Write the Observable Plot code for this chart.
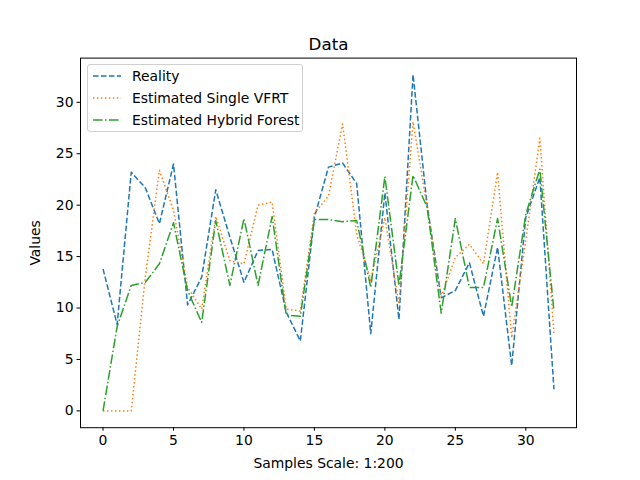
<!DOCTYPE html>
<html>
<head>
<meta charset="utf-8">
<script src="https://cdn.jsdelivr.net/npm/d3@7"></script>
<script src="https://cdn.jsdelivr.net/npm/@observablehq/plot@0.6"></script>
<style>
  html, body { margin: 0; padding: 0; background: #fff; }
  #wrap { position: relative; width: 640px; height: 480px; font-family: "DejaVu Sans", sans-serif; }
  #legend { position: absolute; left: 87px; top: 64px; width: 216px; height: 68px; border: 1px solid #d0d0d0; border-radius: 3px; background: rgba(255,255,255,0.8); box-sizing: border-box; font-size: 13.9px; color: #000; }
  .row { position: absolute; left: 5px; height: 20px; display: flex; align-items: center; }
  .row svg { margin-right: 11px; }
</style>
</head>
<body>
<div id="wrap"><div id="chart"></div><div id="legend"></div></div>
<script>
const seriesNames = ["Reality", "Estimated Single VFRT", "Estimated Hybrid Forest"];
const seriesColors = ["#1f77b4", "#ff7f0e", "#2ca02c"];
const seriesDash = ["5.55,2.4", "1.5,2.475", "9.6,2.4,1.5,2.4"];
const samples = [0,1,2,3,4,5,6,7,8,9,10,11,12,13,14,15,16,17,18,19,20,21,22,23,24,25,26,27,28,29,30,31,32];
const reality = [13.8,8.4,23.2,21.7,18.2,24.0,10.3,13.0,21.5,16.9,12.5,15.6,15.7,9.6,6.8,18.8,23.7,24.1,22.1,7.5,21.2,8.9,32.7,20.0,11.0,11.7,14.4,9.2,15.9,4.4,18.8,22.7,2.1];
const single = [0,0,0,13.0,23.4,19.5,12.0,9.9,18.9,14.6,14.3,20.0,20.3,9.9,9.7,19.2,20.9,27.9,17.2,12.7,18.8,10.4,28.1,19.8,11.1,14.9,16.2,14.3,23.2,7.1,16.6,26.5,7.5];
const hybrid = [0,8.2,12.2,12.5,14.3,18.3,11.7,8.6,18.5,12.2,18.7,12.2,18.9,9.3,9.2,18.6,18.6,18.4,18.5,12.0,22.8,12.2,22.9,19.8,9.5,18.7,12.0,12.0,18.7,10.1,19.1,23.5,9.7];
const xTicks = [0,5,10,15,20,25,30];
const yTicks = [0,5,10,15,20,25,30];
const seriesValues = [reality, single, hybrid];

const data = [];
seriesValues.forEach((vals, s) => vals.forEach((v, i) => data.push({x: samples[i], y: v, s: seriesNames[s]})));

const chart = Plot.plot({
  width: 640,
  height: 480,
  marginLeft: 80,
  marginRight: 64,
  marginTop: 57.6,
  marginBottom: 52.8,
  style: {fontFamily: "DejaVu Sans, sans-serif", fontSize: "13.9px", color: "#000", background: "#fff"},
  x: {domain: [-1.6, 33.6]},
  y: {domain: [-1.635, 34.3]},
  marks: [
    ...seriesNames.map((name, s) => Plot.line(data.filter(d => d.s === name), {
      x: "x", y: "y", stroke: seriesColors[s], strokeWidth: 1.5, strokeDasharray: seriesDash[s], strokeLinecap: "butt", strokeLinejoin: "round"
    })),
    Plot.frame({stroke: "#000", strokeWidth: 1}),
    Plot.axisX({ticks: xTicks, tickSize: 3.5, tickPadding: 3.5, label: "Samples Scale: 1:200", labelAnchor: "center", labelArrow: "none", labelOffset: 40, fontSize: 13.9}),
    Plot.axisY({ticks: yTicks, tickSize: 3.5, tickPadding: 3.5, label: "Values", labelAnchor: "center", labelArrow: "none", labelOffset: 50, fontSize: 13.9}),
    Plot.text(["Data"], {frameAnchor: "top", dy: -8, lineAnchor: "bottom", fontSize: 16.7, text: d => d})
  ]
});
document.getElementById("chart").appendChild(chart);

const legend = document.getElementById("legend");
seriesNames.forEach((name, s) => {
  const row = document.createElement("div");
  row.className = "row";
  row.style.top = (1 + s * 22) + "px";
  row.innerHTML = `<svg width="28" height="10"><line x1="0" y1="5" x2="28" y2="5" stroke="${seriesColors[s]}" stroke-width="1.5" stroke-dasharray="${seriesDash[s]}"/></svg><span>${name}</span>`;
  legend.appendChild(row);
});
</script>
</body>
</html>
